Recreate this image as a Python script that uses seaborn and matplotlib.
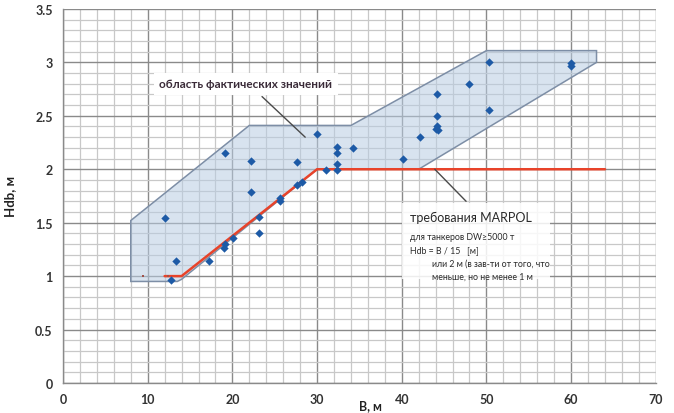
import matplotlib
matplotlib.use("Agg")
import matplotlib.pyplot as plt
import seaborn as sns
import numpy as np
import pandas as pd
from matplotlib.ticker import MultipleLocator

# ---- data ----
ship_B = [12.1, 13.4, 12.7, 17.2, 19.0, 19.1, 20.1, 19.1, 22.2, 22.2, 23.2, 23.2,
          25.6, 25.6, 27.6, 27.6, 28.2, 30.0, 31.1, 32.4, 32.4, 32.4, 32.4, 34.2,
          40.2, 42.2, 44.2, 44.2, 44.2, 44.0, 44.3, 48.0, 50.3, 50.3, 60.0, 60.0]
ship_Hdb = [1.54, 1.14, 0.96, 1.14, 1.26, 1.30, 1.36, 2.15, 2.08, 1.79, 1.40, 1.55,
            1.70, 1.73, 2.07, 1.85, 1.88, 2.33, 1.99, 2.21, 2.15, 2.05, 1.99, 2.20,
            2.10, 2.30, 2.70, 2.50, 2.40, 2.38, 2.37, 2.80, 3.00, 2.55, 2.99, 2.97]

marpol_B = [12.0, 14.0, 30.0, 64.0]
marpol_Hdb = [1.0, 1.0, 2.0, 2.0]

marpol_pts_B = [9.5, 12.4]
marpol_pts_Hdb = [1.0, 1.0]

region_B = [8, 8, 22, 34, 50, 63, 63, 42, 30, 14, 13.5]
region_Hdb = [0.95, 1.52, 2.41, 2.41, 3.11, 3.11, 3.0, 2.0, 2.0, 0.97, 0.95]

x_ticks = [0, 10, 20, 30, 40, 50, 60, 70]
y_ticks = [0, 0.5, 1, 1.5, 2, 2.5, 3, 3.5]
y_ticklabels = ["0", "0.5", "1", "1.5", "2", "2.5", "3", "3.5"]

label_region = "область фактических значений"
label_marpol = "требования MARPOL"
marpol_notes = ["для танкеров DW≥5000 т", "Hdb = B / 15   [м]",
                "или 2 м (в зав-ти от того, что", "меньше, но не менее 1 м"]

# ---- style ----
sns.set_style("white")
plt.rcParams['font.family'] = ['Lato', 'DejaVu Sans']

fig = plt.figure(figsize=(6.74, 4.14), dpi=100)
ax = fig.add_axes([0.0935, 0.0725, 0.8795, 0.9035])

ax.set_xlim(0, 70)
ax.set_ylim(0, 3.5)
ax.xaxis.set_major_locator(MultipleLocator(10))
ax.xaxis.set_minor_locator(MultipleLocator(2))
ax.yaxis.set_major_locator(MultipleLocator(0.5))
ax.yaxis.set_minor_locator(MultipleLocator(0.1))
ax.grid(which="major", color="#8a8a8a", linewidth=1.0, zorder=0)
ax.grid(which="minor", color="#c8c8c8", linewidth=0.9, zorder=0)
ax.set_axisbelow(True)

for s in ["top", "right"]:
    ax.spines[s].set_visible(False)
for s in ["left", "bottom"]:
    ax.spines[s].set_color("#8a8a8a")
    ax.spines[s].set_linewidth(1.0)

ax.set_xticks(x_ticks)
ax.set_yticks(y_ticks)
ax.set_yticklabels(y_ticklabels)
ax.tick_params(axis="both", which="major", length=4, color="#8a8a8a",
               labelsize=9, labelcolor="#333333")
ax.tick_params(axis="both", which="minor", length=0)
for t in ax.get_xticklabels() + ax.get_yticklabels():
    t.set_fontweight("bold")

# shaded region
ax.fill(region_B, region_Hdb, facecolor="#b9cde3", alpha=0.55,
        edgecolor="none", zorder=1)
ax.fill(region_B, region_Hdb, facecolor="none", edgecolor="#7d8ea6",
        linewidth=1.1, zorder=2)

# MARPOL line
sns.lineplot(x=marpol_B, y=marpol_Hdb, ax=ax, color="#e8432a", linewidth=1.8,
             zorder=3, legend=False, sort=False)
sns.scatterplot(x=marpol_pts_B, y=marpol_pts_Hdb, ax=ax, color="#a0524a",
                s=3, marker="s", linewidth=0, zorder=4, legend=False)

# ship data points
sns.scatterplot(x=ship_B, y=ship_Hdb, ax=ax, color="#1d5aa6", marker="D",
                s=18, linewidth=0, zorder=5, legend=False)

# annotations
ax.text(21.6, 2.80, label_region, fontsize=8.5, fontweight="bold",
        color="#3a2b38", ha="center", va="center", zorder=6,
        bbox=dict(facecolor="white", edgecolor="none", pad=4))
ax.plot([23.5, 28.6], [2.68, 2.30], color="#4a4a4a", linewidth=1.0, zorder=6)

ax.fill([40.0, 57.5, 57.5, 40.0], [0.97, 0.97, 1.68, 1.68], facecolor="white",
        alpha=0.85, edgecolor="none", zorder=5)
ax.plot([43.9, 47.6], [2.0, 1.70], color="#4a4a4a", linewidth=1.0, zorder=6)
ax.text(41.0, 1.555, label_marpol, fontsize=9, color="#2a2a2a",
        ha="left", va="center", zorder=7)
ax.text(41.0, 1.37, marpol_notes[0], fontsize=6.3, color="#2a2a2a",
        ha="left", va="center", zorder=7)
ax.text(41.0, 1.245, marpol_notes[1], fontsize=6.3, color="#2a2a2a",
        ha="left", va="center", zorder=7)
ax.text(43.6, 1.12, marpol_notes[2], fontsize=6.3, color="#2a2a2a",
        ha="left", va="center", zorder=7)
ax.text(43.6, 1.0, marpol_notes[3], fontsize=6.3, color="#2a2a2a",
        ha="left", va="center", zorder=7)

ax.set_xlabel("B, м", fontsize=9, fontweight="bold", color="#222222")
ax.xaxis.set_label_coords(0.518, -0.042)
ax.set_ylabel("Hdb, м", fontsize=9.5, fontweight="bold", color="#222222",
              labelpad=14)

fig.savefig("out.png", dpi=100)
